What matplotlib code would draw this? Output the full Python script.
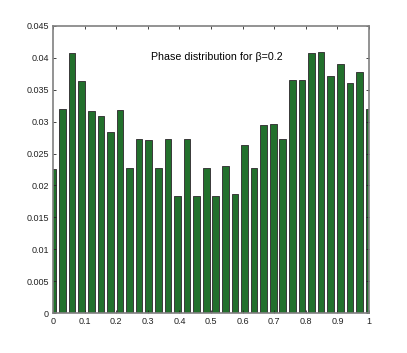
import numpy as np
import matplotlib
matplotlib.use('Agg')
import matplotlib.pyplot as plt

# phase bins (34 bins spanning 0..1) and their probabilities
phase = np.linspace(0, 1, 34)
prob = [0.0226, 0.0320, 0.0408, 0.0364, 0.0317, 0.0308, 0.0284, 0.0318,
        0.0227, 0.0273, 0.0271, 0.0227, 0.0272, 0.0183, 0.0272, 0.0183,
        0.0227, 0.0183, 0.0231, 0.0187, 0.0263, 0.0228, 0.0295, 0.0296,
        0.0273, 0.0365, 0.0365, 0.0408, 0.0409, 0.0372, 0.0390, 0.0360,
        0.0378, 0.0319]

plt.rcParams['font.family'] = ['Liberation Sans', 'DejaVu Sans']

fig = plt.figure(figsize=(4.07, 3.53), dpi=100)
ax = fig.add_axes([0.1302, 0.1125, 0.7764, 0.8147])

ax.bar(phase, prob, width=0.021, color='#22702c', edgecolor='#3a3a3a', linewidth=0.7)

ax.set_xlim(0, 1)
ax.set_ylim(0, 0.045)
ax.set_xticks(np.arange(0, 1.01, 0.1))
ax.set_xticklabels(['0', '0.1', '0.2', '0.3', '0.4', '0.5', '0.6', '0.7', '0.8', '0.9', '1'])
ax.set_yticks(np.arange(0, 0.0451, 0.005))
ax.set_yticklabels(['0', '0.005', '0.01', '0.015', '0.02', '0.025', '0.03', '0.035', '0.04', '0.045'])
ax.tick_params(direction='in', length=2.5, width=0.6, top=True, right=True,
               labelsize=6.5, colors='#222222', pad=3)
for s in ax.spines.values():
    s.set_color('#808080')
    s.set_linewidth(1.2)

ax.text(0.52, 0.0401, 'Phase distribution for \u03b2=0.2', ha='center', va='center', fontsize=7.7)

fig.savefig('out.png', dpi=100)
